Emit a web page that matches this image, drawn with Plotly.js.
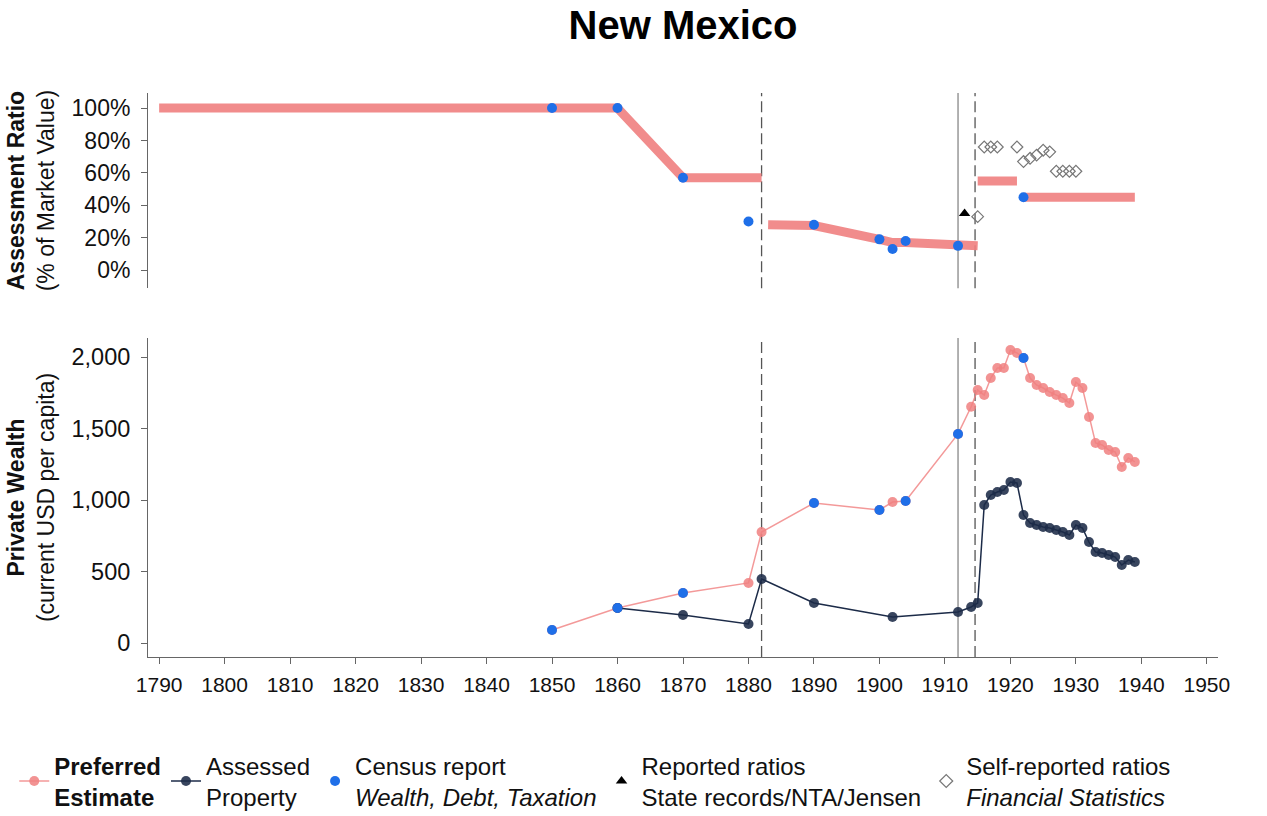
<!DOCTYPE html>
<html><head><meta charset="utf-8">
<script src="https://cdn.plot.ly/plotly-3.0.1.min.js"></script>
<style>html,body{margin:0;padding:0;background:#fff}#chart{width:1267px;height:816px}</style>
</head><body><div id="chart"></div>
<script>
// ---------- Top panel: assessment ratio (% of market value) ----------
const ratioYears    = [1790, 1860, 1870, 1882, null, 1883, 1890, 1900, 1902, 1904, 1912, 1915, null, 1915, 1921, null, 1922, 1939];
const ratioPref     = [100, 100, 57, 57, null, 28, 27.5, 19, 17, 17, 15, 15, null, 55, 55, null, 45, 45];
const censusRatioYears = [1850, 1860, 1870, 1880, 1890, 1900, 1902, 1904, 1912, 1922];
const censusRatio      = [100, 100, 57, 30, 28, 19, 13, 18, 15, 45];
const reportedYears = [1913];
const reportedRatio = [35];
const selfYears = [1915, 1916, 1917, 1918, 1921, 1922, 1923, 1924, 1925, 1926, 1927, 1928, 1929, 1930];
const selfRatio = [33, 76, 76, 76, 76, 67, 69, 71, 74, 73, 61, 61, 61, 61];

// ---------- Bottom panel: private wealth (current USD per capita) ----------
const prefYears  = [1850, 1860, 1870, 1880, 1882, 1890, 1900, 1902, 1904, 1912,
  1914, 1915, 1916, 1917, 1918, 1919, 1920, 1921, 1922, 1923, 1924, 1925, 1926,
  1927, 1928, 1929, 1930, 1931, 1932, 1933, 1934, 1935, 1936, 1937, 1938, 1939];
const prefWealth = [91, 245, 350, 420, 776, 979, 930, 986, 993, 1462,
  1652, 1769, 1734, 1853, 1923, 1923, 2049, 2028, 1993, 1853, 1804, 1783, 1755,
  1734, 1713, 1678, 1825, 1783, 1580, 1399, 1385, 1350, 1336, 1231, 1294, 1266];
const assessedYears  = [1860, 1870, 1880, 1882, 1890, 1902, 1912, 1914, 1915,
  1916, 1917, 1918, 1919, 1920, 1921, 1922, 1923, 1924, 1925, 1926, 1927, 1928,
  1929, 1930, 1931, 1932, 1933, 1934, 1935, 1936, 1937, 1938, 1939];
const assessedWealth = [245, 196, 133, 448, 280, 182, 217, 252, 280,
  965, 1035, 1056, 1070, 1126, 1119, 895, 839, 825, 811, 804, 790, 776,
  755, 825, 804, 706, 636, 629, 615, 601, 545, 580, 566];
const censusWealthYears = [1850, 1860, 1870, 1890, 1900, 1904, 1912, 1922];
const censusWealth      = [91, 245, 350, 979, 930, 993, 1462, 1993];

// reference lines (years)
const breakYears = [1882, 1912, 1914.6];
const breakDash  = ['11px,5px', 'solid', '11px,5px'];

const xTicks = [1790,1800,1810,1820,1830,1840,1850,1860,1870,1880,1890,1900,1910,1920,1930,1940,1950];
const ratioTicks = [0,20,40,60,80,100];
const ratioTickText = ratioTicks.map(v => v + '%');
const wealthTicks = [0,500,1000,1500,2000];

const BLUE = '#1f6fe8';
const NAVY = '#1c2b48';
const FONT = 'Liberation Sans, Arial, Helvetica, sans-serif';

const traces = [
  // top
  {x: ratioYears, y: ratioPref, xaxis: 'x2', yaxis: 'y2', mode: 'lines', connectgaps: false,
   line: {color: 'rgba(240,128,128,0.9)', width: 9}, showlegend: false, hoverinfo: 'x+y'},
  {x: censusRatioYears, y: censusRatio, xaxis: 'x2', yaxis: 'y2', mode: 'markers',
   marker: {color: BLUE, size: 10}, showlegend: false},
  {x: reportedYears, y: reportedRatio, xaxis: 'x2', yaxis: 'y2', mode: 'markers',
   marker: {color: '#000', size: 10, symbol: 'triangle-up'}, showlegend: false},
  {x: selfYears, y: selfRatio, xaxis: 'x2', yaxis: 'y2', mode: 'markers',
   marker: {color: '#777', size: 9, symbol: 'diamond-open', line: {width: 1.2}}, showlegend: false},
  // bottom
  {x: prefYears, y: prefWealth, xaxis: 'x', yaxis: 'y', mode: 'lines+markers',
   name: '<b>Preferred<br>Estimate</b>',
   line: {color: 'rgba(240,128,128,0.8)', width: 1.5},
   marker: {color: 'rgba(240,128,128,0.85)', size: 10}},
  {x: assessedYears, y: assessedWealth, xaxis: 'x', yaxis: 'y', mode: 'lines+markers',
   name: 'Assessed<br>Property',
   line: {color: NAVY, width: 1.5},
   marker: {color: 'rgba(28,43,72,0.88)', size: 10}},
  {x: censusWealthYears, y: censusWealth, xaxis: 'x', yaxis: 'y', mode: 'markers',
   name: 'Census report<br><i>Wealth, Debt, Taxation</i>',
   marker: {color: BLUE, size: 10}},
  {x: [null], y: [null], xaxis: 'x', yaxis: 'y', mode: 'markers',
   name: 'Reported ratios<br>State records/NTA/Jensen',
   marker: {color: '#000', size: 10, symbol: 'triangle-up'}},
  {x: [null], y: [null], xaxis: 'x', yaxis: 'y', mode: 'markers',
   name: 'Self-reported ratios<br><i>Financial Statistics</i>',
   marker: {color: '#777', size: 10, symbol: 'diamond-open', line: {width: 1.2}}}
];

const shapes = [];
breakYears.forEach((yr, i) => {
  ['y domain', 'y2 domain'].forEach((yref, j) => {
    shapes.push({type: 'line', xref: j === 0 ? 'x' : 'x2', yref: yref, x0: yr, x1: yr, y0: 0, y1: 1,
      line: {color: i === 1 ? '#888' : '#555', width: 1.3, dash: breakDash[i]}, layer: 'below'});
  });
});

const axisCommon = {showgrid: false, zeroline: false, showline: true, linecolor: '#666', linewidth: 1,
  ticks: 'outside', ticklen: 6, tickcolor: '#666', automargin: false};

const layout = {
  width: 1267, height: 816,
  paper_bgcolor: '#fff', plot_bgcolor: '#fff',
  font: {family: FONT, color: '#111', size: 22},
  margin: {l: 148, r: 49, t: 93, b: 159, autoexpand: false},
  title: {text: '<b>New Mexico</b>', x: 0.5, xref: 'paper', y: 0.969, yanchor: 'middle',
    font: {size: 40, family: FONT, color: '#000'}},
  xaxis: Object.assign({}, axisCommon, {range: [1788.3, 1951.7], tickvals: xTicks, anchor: 'y', domain: [0, 1],
    tickfont: {size: 21, color: '#111'}, ticklabelstandoff: 3}),
  yaxis: Object.assign({}, axisCommon, {domain: [0, 0.5656], range: [-97.9, 2132.9], tickvals: wealthTicks,
    tickformat: ',', anchor: 'x', tickfont: {size: 23.5, color: '#111'}, ticklabelstandoff: 6,
    title: {text: '<b>Private Wealth</b><br>(current USD per capita)', font: {size: 23}, standoff: 10}}),
  xaxis2: {matches: 'x', anchor: 'y2', showline: false, showticklabels: false, ticks: '', showgrid: false, zeroline: false, domain: [0, 1], range: [1788.3, 1951.7]},
  yaxis2: Object.assign({}, axisCommon, {domain: [0.654, 1], range: [-11.1, 109.3], tickvals: ratioTicks,
    ticktext: ratioTickText, anchor: 'x2', tickfont: {size: 23, color: '#111'}, ticklabelstandoff: 6,
    title: {text: '<b>Assessment Ratio</b><br>(% of Market Value)', font: {size: 23}, standoff: 10}}),
  shapes: shapes,
  showlegend: true,
  legend: {orientation: 'h', x: -0.125, xanchor: 'left', y: -0.153, yanchor: 'top',
    font: {size: 24, color: '#111'}, bgcolor: 'rgba(0,0,0,0)', itemwidth: 30, valign: 'middle', tracegroupgap: 0}
};

Plotly.newPlot('chart', traces, layout, {displayModeBar: false, staticPlot: true});
</script>
</body></html>
